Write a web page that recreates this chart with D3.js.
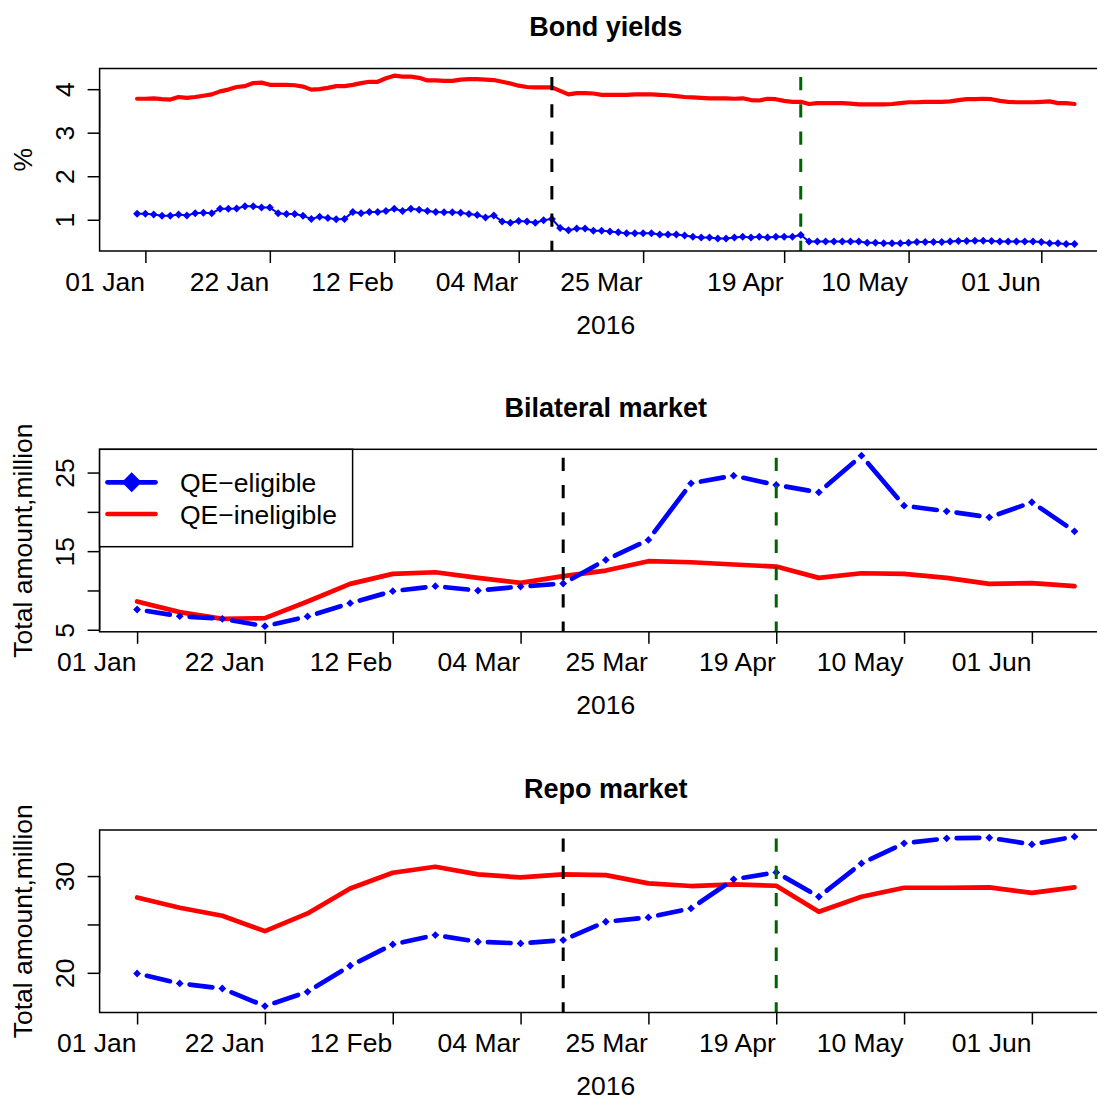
<!DOCTYPE html>
<html><head><meta charset="utf-8">
<script src="https://cdn.jsdelivr.net/npm/d3@7"></script>
<style>
body{margin:0;background:#fff}
svg text{font-family:"Liberation Sans",Arial,Helvetica,sans-serif;fill:#000}
</style>
</head><body>
<svg id="c" width="1097" height="1100"></svg>
<script>
// ---------------- DATA ----------------
const tickLabels = ["01 Jan","22 Jan","12 Feb","04 Mar","25 Mar","19 Apr","10 May","01 Jun"];
const dailyTickIdx = [1,16,31,46,61,78,93,109];
const weeklyTickIdx = [0,3,6,9,12,15,18,21];
const dailyEvents = [50, 80];     // 10 Mar 2016, 21 Apr 2016
const weeklyEvents = [10, 15];
const seriesNames = ["QE\u2212eligible","QE\u2212ineligible"];

const yieldEligible = [
1.14,1.14,1.12,1.09,1.09,1.12,1.10,1.15,1.16,1.15,
1.25,1.25,1.26,1.31,1.31,1.28,1.28,1.15,1.13,1.13,
1.09,1.02,1.07,1.04,1.01,1.02,1.18,1.15,1.18,1.18,
1.20,1.25,1.20,1.25,1.23,1.20,1.18,1.17,1.17,1.16,
1.13,1.11,1.05,1.10,0.96,0.93,0.97,0.96,0.93,0.99,
1.02,0.81,0.76,0.80,0.80,0.75,0.75,0.73,0.71,0.69,
0.69,0.69,0.69,0.66,0.66,0.66,0.64,0.61,0.59,0.59,
0.57,0.57,0.59,0.61,0.59,0.61,0.59,0.61,0.61,0.61,
0.65,0.50,0.50,0.50,0.50,0.50,0.50,0.50,0.47,0.47,
0.46,0.46,0.46,0.47,0.49,0.49,0.49,0.49,0.50,0.51,
0.51,0.52,0.52,0.51,0.50,0.50,0.50,0.50,0.50,0.49,
0.46,0.46,0.44,0.44];
const yieldIneligible = [
3.78,3.78,3.79,3.77,3.76,3.82,3.80,3.82,3.85,3.88,
3.95,3.99,4.05,4.07,4.14,4.15,4.10,4.10,4.10,4.09,
4.06,3.99,4.00,4.03,4.07,4.07,4.10,4.14,4.17,4.17,
4.25,4.31,4.29,4.29,4.26,4.20,4.20,4.19,4.19,4.22,
4.23,4.23,4.22,4.21,4.17,4.13,4.08,4.05,4.04,4.04,
4.04,3.96,3.88,3.91,3.91,3.90,3.87,3.87,3.87,3.87,
3.88,3.88,3.88,3.87,3.86,3.84,3.82,3.81,3.80,3.79,
3.79,3.79,3.78,3.79,3.75,3.74,3.78,3.77,3.73,3.71,
3.71,3.66,3.68,3.68,3.68,3.68,3.67,3.65,3.65,3.65,
3.65,3.66,3.68,3.70,3.70,3.71,3.71,3.71,3.72,3.75,
3.77,3.77,3.78,3.77,3.73,3.71,3.70,3.70,3.70,3.71,
3.72,3.68,3.68,3.66];

const bilateralEligible = [7.58,6.73,6.39,5.46,6.69,8.38,9.91,10.54,9.99,10.50,10.88,13.89,16.43,23.63,24.61,23.42,22.49,27.15,20.79,20.07,19.31,21.22,17.53];
const bilateralIneligible = [8.60,7.24,6.39,6.48,8.60,10.84,12.11,12.32,11.60,10.97,11.83,12.53,13.72,13.59,13.30,13.04,11.60,12.19,12.11,11.60,10.84,10.93,10.54];
const repoEligible = [19.93,18.90,18.38,16.56,18.04,20.73,22.93,23.90,23.21,23.04,23.38,25.28,25.73,26.66,29.66,30.38,27.86,31.31,33.38,33.90,33.96,33.27,34.07];
const repoIneligible = [27.79,26.73,25.90,24.31,26.14,28.72,30.34,30.96,30.17,29.86,30.17,30.10,29.24,28.97,29.14,29.00,26.31,27.86,28.79,28.79,28.83,28.27,28.83];

// ---------------- LAYOUT / STYLE ----------------
const FS = 26.5;
const LEFT = 99.6, RIGHT = 1112;
const PH = 182.5;
const BLUE = "#0000FF", RED = "#FF0000", GREEN = "#006400";
const svg = d3.select("#c");

function diamond(r){ return `M0,${-r}L${r},0L0,${r}L${-r},0Z`; }

function panel(cfg){
  const top = cfg.top, bottom = top + PH;
  const n = cfg.eligible.length;
  const x = d3.scaleLinear().domain([-(n-1)*0.04, (n-1)*1.04]).range([LEFT, RIGHT]);
  const y = d3.scaleLinear().domain(cfg.yDomain).range([bottom, top]);
  const g = svg.append("g");

  // title
  g.append("text").attr("x",(LEFT+RIGHT)/2).attr("y",top-32.5)
    .attr("text-anchor","middle").attr("font-size",27).attr("font-weight","bold").text(cfg.title);

  // x axis
  const xa = g.append("g").attr("transform",`translate(0,${bottom})`)
    .call(d3.axisBottom(x).tickValues(cfg.tickIdx).tickFormat((d,i)=>tickLabels[i]).tickSize(12));
  xa.select(".domain").remove();
  xa.selectAll(".tick line").attr("stroke","#000").attr("stroke-width",1.5);
  xa.selectAll(".tick text").attr("x",-1).attr("y",39.5).attr("dy",null).attr("text-anchor","end")
    .attr("font-size",FS).attr("font-family",null);
  g.append("text").attr("x",(LEFT+RIGHT)/2).attr("y",bottom+82.5)
    .attr("text-anchor","middle").attr("font-size",FS).text("2016");

  // y axis
  const ya = g.append("g").attr("transform",`translate(${LEFT},0)`)
    .call(d3.axisLeft(y).tickValues(cfg.yTicks).tickFormat(d=>cfg.yLabelled.includes(d)?String(d):"").tickSize(12));
  ya.select(".domain").attr("d",`M-0,${y(cfg.yTicks[0])}V${y(cfg.yTicks[cfg.yTicks.length-1])}`).attr("stroke-width",1.5);
  ya.selectAll(".tick line").attr("stroke","#000").attr("stroke-width",1.5);
  ya.selectAll(".tick text").attr("x",0).attr("dy",null).attr("text-anchor","middle")
    .attr("transform","translate(-26,0) rotate(-90)").attr("font-size",FS).attr("font-family",null);
  g.append("text").attr("transform",`translate(32,${(top+bottom)/2}) rotate(-90)`)
    .attr("text-anchor","middle").attr("font-size",FS).text(cfg.yTitle);

  // data: red
  const line = d3.line().x((d,i)=>x(i)).y(d=>y(d));
  g.append("path").datum(cfg.ineligible).attr("d",line).attr("fill","none")
    .attr("stroke",RED).attr("stroke-width",cfg.daily?4.2:4.7)
    .attr("stroke-linejoin","round").attr("stroke-linecap","round");

  // data: blue
  if (cfg.daily){
    g.append("path").datum(cfg.eligible).attr("d",line).attr("fill","none")
      .attr("stroke",BLUE).attr("stroke-width",2).attr("stroke-linejoin","round");
  } else {
    const gap = 10;
    const segs = d3.pairs(cfg.eligible.map((v,i)=>[x(i),y(v)]));
    g.selectAll(null).data(segs).join("line")
      .each(function([a,b]){
        const dx=b[0]-a[0], dy=b[1]-a[1], L=Math.hypot(dx,dy);
        const ux=dx/L, uy=dy/L;
        d3.select(this).attr("x1",a[0]+ux*gap).attr("y1",a[1]+uy*gap)
          .attr("x2",b[0]-ux*gap).attr("y2",b[1]-uy*gap);
      })
      .attr("stroke",BLUE).attr("stroke-width",4.7).attr("stroke-linecap","round");
  }
  g.selectAll(null).data(cfg.eligible).join("path")
    .attr("d",diamond(cfg.daily?4:3.9))
    .attr("transform",(d,i)=>`translate(${x(i)},${y(d)})`).attr("fill",BLUE);

  // event lines
  g.selectAll(null).data(cfg.events).join("line")
    .attr("x1",d=>x(d)).attr("x2",d=>x(d)).attr("y1",top+8.4).attr("y2",bottom)
    .attr("stroke",(d,i)=>i===0?"#000":GREEN).attr("stroke-width",3)
    .attr("stroke-dasharray","13.3 14");

  // box
  g.append("rect").attr("x",LEFT).attr("y",top).attr("width",RIGHT-LEFT).attr("height",PH)
    .attr("fill","none").attr("stroke","#000").attr("stroke-width",1.5);

  // legend
  if (cfg.legend){
    const lg = g.append("g");
    lg.append("rect").attr("x",LEFT).attr("y",top).attr("width",253).attr("height",97.4)
      .attr("fill","#fff").attr("stroke","#000").attr("stroke-width",1.5);
    const cols=[BLUE,RED];
    seriesNames.forEach((nm,i)=>{
      const yy = top + 33 + i*31.7;
      lg.append("line").attr("x1",107.5).attr("x2",155.5).attr("y1",yy).attr("y2",yy)
        .attr("stroke",cols[i]).attr("stroke-width",4.7).attr("stroke-linecap","round");
      if(i===0) lg.append("path").attr("d",diamond(10)).attr("transform",`translate(131.7,${yy})`).attr("fill",BLUE);
      lg.append("text").attr("x",180).attr("y",yy+9.5).attr("font-size",FS).text(nm);
    });
  }
}

panel({top:68.5, title:"Bond yields", yDomain:[0.282,4.475], yTicks:[1,2,3,4], yLabelled:[1,2,3,4],
  yTitle:"%", eligible:yieldEligible, ineligible:yieldIneligible, tickIdx:dailyTickIdx, events:dailyEvents, daily:true});
panel({top:449.3, title:"Bilateral market", yDomain:[4.74,27.96], yTicks:[5,10,15,20,25], yLabelled:[5,15,25],
  yTitle:"Total amount,million", eligible:bilateralEligible, ineligible:bilateralIneligible, tickIdx:weeklyTickIdx, events:weeklyEvents, legend:true});
panel({top:830, title:"Repo market", yDomain:[15.9,34.76], yTicks:[20,25,30], yLabelled:[20,30],
  yTitle:"Total amount,million", eligible:repoEligible, ineligible:repoIneligible, tickIdx:weeklyTickIdx, events:weeklyEvents});
</script>
</body></html>
